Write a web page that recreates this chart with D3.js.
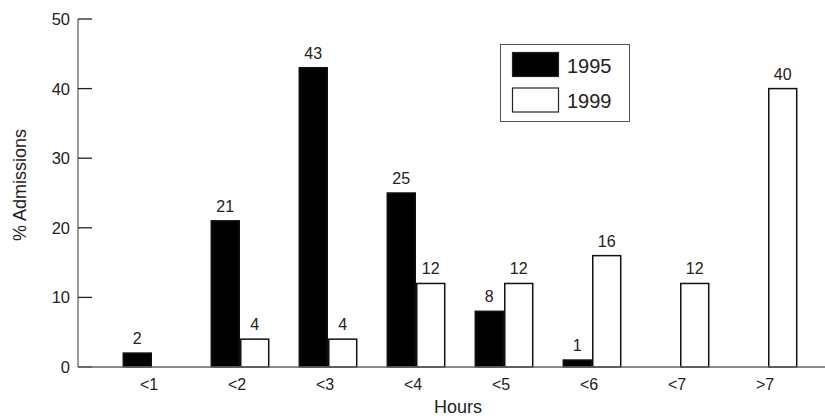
<!DOCTYPE html>
<html><head><meta charset="utf-8">
<script src="https://cdn.jsdelivr.net/npm/d3@7"></script>
<style>body{margin:0;background:#fff}svg{display:block}text{font-family:"Liberation Sans",Arial,sans-serif;fill:#222}</style>
</head><body>
<script>
const categories = ["<1","<2","<3","<4","<5","<6","<7",">7"];
const values1995 = [2,21,43,25,8,1,null,null];
const values1999 = [null,4,4,12,12,16,12,40];
const yTicks = [0,10,20,30,40,50];
const seriesNames = ["1995","1999"];

const W=825,H=419;
const svg=d3.select("body").append("svg").attr("width",W).attr("height",H);
const x=d3.scaleBand().domain(categories).range([108,812]).paddingInner(0.33).paddingOuter(0.165);
const xs=d3.scaleBand().domain(seriesNames).range([0,x.bandwidth()]);
const y=d3.scaleLinear().domain([0,50]).range([367,19]);

// y axis
const gy=svg.append("g").attr("transform","translate(78,0)");
gy.append("line").attr("x1",0).attr("x2",0).attr("y1",y(0)).attr("y2",y(50)).attr("stroke","#666").attr("stroke-width",1.3);
yTicks.forEach(t=>{
  gy.append("line").attr("x1",0).attr("x2",14).attr("y1",y(t)).attr("y2",y(t)).attr("stroke","#222").attr("stroke-width",1.3);
  gy.append("text").attr("x",-8).attr("y",y(t)).attr("dy","0.36em").attr("text-anchor","end").attr("font-size",16.5).text(t);
});
svg.append("text").attr("transform","translate(26,185) rotate(-90)").attr("text-anchor","middle").attr("font-size",18).text("% Admissions");

const series=[{name:"1995",vals:values1995,fill:"#000"},{name:"1999",vals:values1999,fill:"#fff"}];
series.forEach(s=>{
  categories.forEach((c,i)=>{
    const v=s.vals[i]; if(v==null) return;
    const bx=x(c)+xs(s.name);
    svg.append("rect").attr("x",bx+0.75).attr("y",y(v)).attr("width",xs.bandwidth()-1.5).attr("height",y(0)-y(v))
      .attr("fill",s.fill).attr("stroke","#111").attr("stroke-width",1.5);
    svg.append("text").attr("x",bx+xs.bandwidth()/2).attr("y",y(v)-9).attr("text-anchor","middle").attr("font-size",16).text(v);
  });
});

// x axis
svg.append("line").attr("x1",78).attr("x2",W).attr("y1",y(0)).attr("y2",y(0)).attr("stroke","#666").attr("stroke-width",1.5);
categories.forEach(c=>{
  svg.append("text").attr("x",x(c)+x.bandwidth()/2-3).attr("y",390).attr("text-anchor","middle").attr("font-size",16).text(c);
});
svg.append("text").attr("x",458).attr("y",413).attr("text-anchor","middle").attr("font-size",18).text("Hours");

// legend
const lg=svg.append("g");
lg.append("rect").attr("x",500.5).attr("y",44.5).attr("width",129).attr("height",77).attr("fill","#fff").attr("stroke","#555").attr("stroke-width",1);
series.forEach((s,i)=>{
  lg.append("rect").attr("x",512.5).attr("y",52.5+i*35.5).attr("width",46).attr("height",24).attr("fill",s.fill).attr("stroke","#222").attr("stroke-width",1.2);
  lg.append("text").attr("x",567).attr("y",65.5+i*35.5).attr("dy","0.36em").attr("font-size",20).text(s.name);
});
</script>
</body></html>
